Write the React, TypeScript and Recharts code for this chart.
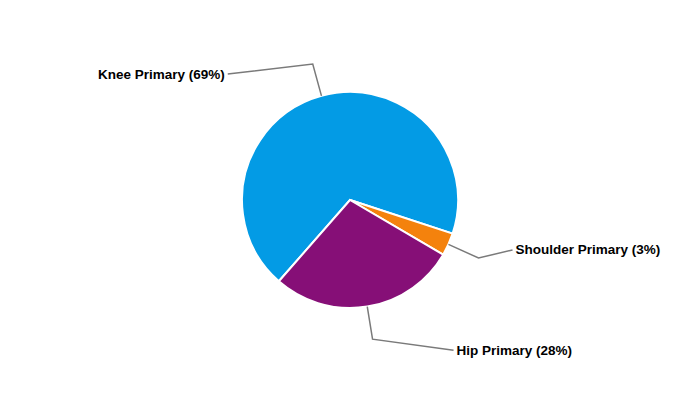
import { PieChart, Pie, Cell } from 'recharts';

const categories = ['Knee Primary', 'Shoulder Primary', 'Hip Primary'];
const shares = [68.6, 3.4, 28.0];
const colors = ['#039be5', '#f4820d', '#860f77'];

// where each label line ends, relative to its elbow point
const labelShift = [
  { dx: -85, dy: 10 },
  { dx: 34, dy: -8 },
  { dx: 81, dy: 11 },
];

const data = categories.map((name, i) => ({ name, value: shares[i] }));

const RADIAN = Math.PI / 180;

function renderLabel(props: any) {
  const { cx, cy, midAngle, outerRadius, percent, index, name } = props;
  const cos = Math.cos(-midAngle * RADIAN);
  const sin = Math.sin(-midAngle * RADIAN);
  const sx = cx + outerRadius * cos;
  const sy = cy + outerRadius * sin;
  const mx = cx + (outerRadius + 33) * cos;
  const my = cy + (outerRadius + 33) * sin;
  const shift = labelShift[index];
  const ex = mx + shift.dx;
  const ey = my + shift.dy;
  const leftSide = shift.dx < 0;

  return (
    <g>
      <path
        d={`M${sx},${sy}L${mx},${my}L${ex},${ey}`}
        stroke="#7a7a7a"
        strokeWidth={1.5}
        fill="none"
      />
      <text
        x={ex + (leftSide ? -3 : 3)}
        y={ey}
        textAnchor={leftSide ? 'end' : 'start'}
        dominantBaseline="central"
        fill="#000"
        fontSize={13.5}
        fontWeight="bold"
        fontFamily="'Liberation Sans', Arial, sans-serif"
      >
        {`${name} (${Math.round(percent * 100)}%)`}
      </text>
    </g>
  );
}

export default function App() {
  return (
    <div style={{ position: 'fixed', left: 0, top: 0, width: 700, height: 400, background: '#fff' }}>
      <PieChart width={700} height={400} margin={{ top: 0, right: 0, bottom: 0, left: 0 }}>
        <Pie
          data={data}
          dataKey="value"
          nameKey="name"
          cx={350}
          cy={200}
          outerRadius={108}
          startAngle={228.8}
          endAngle={-131.2}
          stroke="#fff"
          strokeWidth={2}
          label={renderLabel}
          labelLine={false}
          isAnimationActive={false}
        >
          {data.map((d, i) => (
            <Cell key={d.name} fill={colors[i]} />
          ))}
        </Pie>
      </PieChart>
    </div>
  );
}
